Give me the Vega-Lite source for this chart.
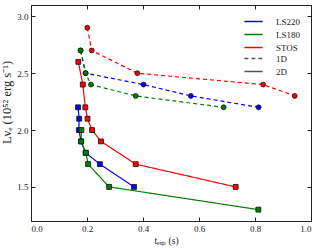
{
  "$schema": "https://vega.github.io/schema/vega-lite/v6.json",
  "width": 280,
  "height": 216,
  "autosize": {"type": "none"},
  "padding": {"left": 31, "top": 5, "right": 13, "bottom": 27},
  "background": "white",
  "config": {
    "font": "Liberation Serif",
    "view": {"stroke": "#222", "strokeWidth": 1},
    "axis": {"labelFont": "Liberation Serif", "titleFont": "Liberation Serif", "labelFontSize": 9, "titleFontSize": 9.5, "titleFontWeight": "normal", "domain": false, "grid": false, "tickSize": -4, "tickColor": "#222", "labelColor": "#222", "titleColor": "#222", "labelPadding": 7},
    "legend": {"labelFont": "Liberation Serif", "labelFontSize": 9, "labelColor": "#222", "symbolType": "M-1.4,0H1.4", "symbolFillColor": "transparent", "symbolSize": 170, "symbolStrokeWidth": 1.5, "rowPadding": 0, "labelOffset": 15, "padding": 0, "title": null}
  },
  "data": {"values": [
    {"model": "LS220", "dim": "1D", "t": 0.177, "L": 2.7},
    {"model": "LS220", "dim": "1D", "t": 0.195, "L": 2.5},
    {"model": "LS220", "dim": "1D", "t": 0.402, "L": 2.4},
    {"model": "LS220", "dim": "1D", "t": 0.571, "L": 2.3},
    {"model": "LS220", "dim": "1D", "t": 0.813, "L": 2.2},
    {"model": "LS220", "dim": "2D", "t": 0.168, "L": 2.2},
    {"model": "LS220", "dim": "2D", "t": 0.172, "L": 2.1},
    {"model": "LS220", "dim": "2D", "t": 0.171, "L": 2.0},
    {"model": "LS220", "dim": "2D", "t": 0.179, "L": 1.9},
    {"model": "LS220", "dim": "2D", "t": 0.195, "L": 1.8},
    {"model": "LS220", "dim": "2D", "t": 0.246, "L": 1.7},
    {"model": "LS220", "dim": "2D", "t": 0.368, "L": 1.5},
    {"model": "LS180", "dim": "1D", "t": 0.177, "L": 2.7},
    {"model": "LS180", "dim": "1D", "t": 0.195, "L": 2.5},
    {"model": "LS180", "dim": "1D", "t": 0.214, "L": 2.4},
    {"model": "LS180", "dim": "1D", "t": 0.374, "L": 2.3},
    {"model": "LS180", "dim": "1D", "t": 0.688, "L": 2.2},
    {"model": "LS180", "dim": "2D", "t": 0.18, "L": 2.0},
    {"model": "LS180", "dim": "2D", "t": 0.179, "L": 1.9},
    {"model": "LS180", "dim": "2D", "t": 0.196, "L": 1.8},
    {"model": "LS180", "dim": "2D", "t": 0.204, "L": 1.7},
    {"model": "LS180", "dim": "2D", "t": 0.279, "L": 1.5},
    {"model": "LS180", "dim": "2D", "t": 0.812, "L": 1.3},
    {"model": "STOS", "dim": "1D", "t": 0.201, "L": 2.9},
    {"model": "STOS", "dim": "1D", "t": 0.217, "L": 2.7},
    {"model": "STOS", "dim": "1D", "t": 0.38, "L": 2.5},
    {"model": "STOS", "dim": "1D", "t": 0.829, "L": 2.4},
    {"model": "STOS", "dim": "1D", "t": 0.942, "L": 2.3},
    {"model": "STOS", "dim": "2D", "t": 0.169, "L": 2.6},
    {"model": "STOS", "dim": "2D", "t": 0.185, "L": 2.4},
    {"model": "STOS", "dim": "2D", "t": 0.194, "L": 2.2},
    {"model": "STOS", "dim": "2D", "t": 0.202, "L": 2.1},
    {"model": "STOS", "dim": "2D", "t": 0.218, "L": 2.0},
    {"model": "STOS", "dim": "2D", "t": 0.25, "L": 1.9},
    {"model": "STOS", "dim": "2D", "t": 0.374, "L": 1.7},
    {"model": "STOS", "dim": "2D", "t": 0.731, "L": 1.5}
  ]},
  "layer": [
    {
      "mark": {"type": "line", "strokeWidth": 1.2},
      "encoding": {
        "x": {"field": "t", "type": "quantitative", "scale": {"domain": [0, 1], "nice": false, "zero": false}, "axis": {"orient": "bottom", "values": [0, 0.2, 0.4, 0.6, 0.8, 1.0], "format": ".1f", "title": "tₑₓₚ (s)", "titlePadding": 2, "titleX": 135}},
        "y": {"field": "L", "type": "quantitative", "scale": {"domain": [1.2, 3.1], "nice": false, "zero": false}, "axis": {"orient": "left", "values": [1.5, 2.0, 2.5, 3.0], "format": ".1f", "title": "Lνₑ (10⁵² erg s⁻¹)", "titleFontSize": 12.5, "titlePadding": 3, "titleY": 97}},
        "color": {"field": "model", "type": "nominal", "scale": {"domain": ["LS220", "LS180", "STOS"], "range": ["#0000ff", "#008000", "#ff0000"]}, "legend": {"orient": "none", "legendX": 215, "legendY": 9}},
        "strokeDash": {"field": "dim", "type": "nominal", "scale": {"domain": ["1D", "2D"], "range": [[4, 3], [1, 0]]}, "legend": {"orient": "none", "legendX": 215, "legendY": 46, "symbolStrokeColor": "#555"}},
        "detail": {"field": "model"},
        "order": {"field": "L", "type": "quantitative", "sort": "descending"}
      }
    },
    {
      "transform": [{"filter": "datum.dim === '1D'"}],
      "mark": {"type": "point", "shape": "circle", "filled": true, "stroke": "#111", "strokeWidth": 0.8, "opacity": 1, "size": 24},
      "encoding": {
        "x": {"field": "t", "type": "quantitative", "axis": null},
        "y": {"field": "L", "type": "quantitative", "axis": null},
        "fill": {"field": "model", "type": "nominal", "scale": {"domain": ["LS220", "LS180", "STOS"], "range": ["#0000ff", "#008000", "#ff0000"]}, "legend": null}
      }
    },
    {
      "transform": [{"filter": "datum.dim === '2D'"}],
      "mark": {"type": "point", "shape": "square", "filled": true, "stroke": "#111", "strokeWidth": 0.8, "opacity": 1, "size": 24},
      "encoding": {
        "x": {"field": "t", "type": "quantitative", "axis": null},
        "y": {"field": "L", "type": "quantitative", "axis": null},
        "fill": {"field": "model", "type": "nominal", "scale": {"domain": ["LS220", "LS180", "STOS"], "range": ["#0000ff", "#008000", "#ff0000"]}, "legend": null}
      }
    },
    {
      "mark": {"type": "point", "opacity": 0},
      "encoding": {
        "x": {"field": "t", "type": "quantitative", "axis": {"orient": "top", "values": [0, 0.2, 0.4, 0.6, 0.8, 1.0], "labels": false, "title": null}},
        "y": {"field": "L", "type": "quantitative", "axis": {"orient": "right", "values": [1.5, 2.0, 2.5, 3.0], "labels": false, "title": null}}
      }
    }
  ],
  "resolve": {"axis": {"x": "independent", "y": "independent"}}
}
